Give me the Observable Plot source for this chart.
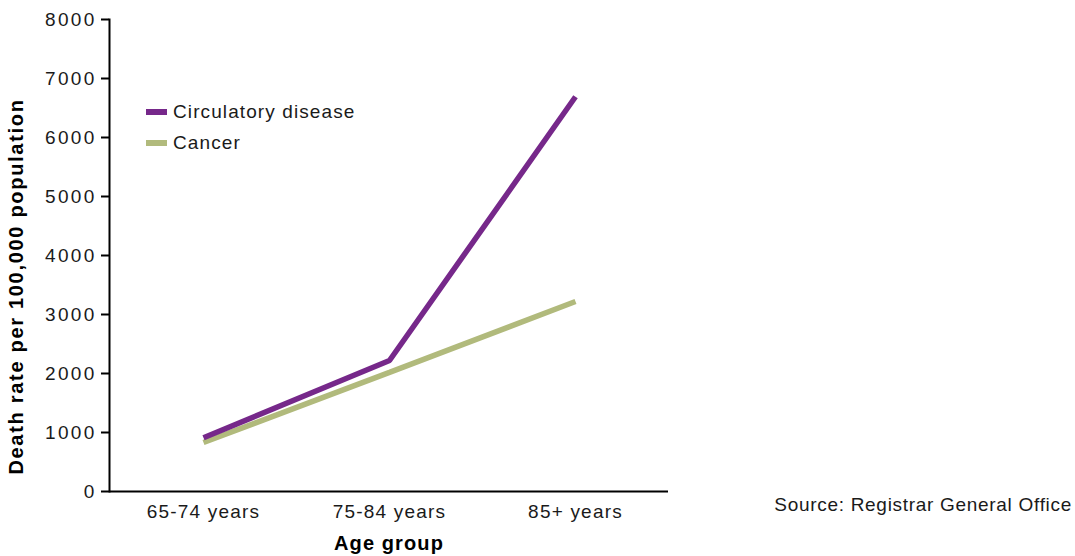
<!DOCTYPE html>
<html>
<head>
<meta charset="utf-8">
<script src="https://cdn.jsdelivr.net/npm/d3@7"></script>
<script src="https://cdn.jsdelivr.net/npm/@observablehq/plot@0.6"></script>
<style>
  html, body { margin: 0; padding: 0; background: #fff; }
  #wrap { position: relative; width: 1075px; height: 556px; font-family: "Liberation Sans", Arial, sans-serif; color: #1a1a1a; }
  #wrap svg text { letter-spacing: 0.7px; }
  #wrap svg [aria-label="y-axis tick label"] text { letter-spacing: 2.3px; }
  #wrap svg [aria-label="x-axis tick label"] text { letter-spacing: 1.2px; }
  .legend { position: absolute; left: 146px; top: 96px; font-size: 19px; letter-spacing: 1.1px; line-height: 31px; }
  .legend .item { display: flex; align-items: center; height: 31px; }
  .legend .sw { width: 21px; height: 6px; margin-right: 6px; }
  .source { position: absolute; right: 3px; top: 494px; font-size: 19px; letter-spacing: 0.7px; }
</style>
</head>
<body>
<div id="wrap"></div>
<script>
const ageGroups = ["65-74 years", "75-84 years", "85+ years"];
const circulatory = [910, 2220, 6690];
const cancer = [830, 2020, 3220];
const seriesNames = ["Circulatory disease", "Cancer"];
const seriesColors = ["#76288a", "#b1ba7c"];
const yTicks = [0, 1000, 2000, 3000, 4000, 5000, 6000, 7000, 8000];
const yLabel = "Death rate per 100,000 population";
const xLabel = "Age group";
const sourceText = "Source: Registrar General Office";

const circRows = ageGroups.map((g, i) => ({age: g, value: circulatory[i]}));
const cancerRows = ageGroups.map((g, i) => ({age: g, value: cancer[i]}));

const chart = Plot.plot({
  width: 1075,
  height: 556,
  marginLeft: 109,
  marginRight: 407,
  marginTop: 19,
  marginBottom: 65,
  style: {fontFamily: "'Liberation Sans', Arial, sans-serif", fontSize: "19px", color: "#1a1a1a", background: "#fff", overflow: "visible"},
  x: {type: "point", domain: ageGroups, padding: 0.5},
  y: {domain: [0, 8000]},
  marks: [
    Plot.axisY({ticks: yTicks, tickSize: 8, tickPadding: 5, tickFormat: d3.format("d"), label: null, stroke: "#000", strokeWidth: 2, fill: "#1a1a1a"}),
    Plot.axisX({tickSize: 0, tickPadding: 13, label: null, fill: "#1a1a1a"}),
    Plot.ruleY([0], {stroke: "#000", strokeWidth: 2}),
    Plot.frame({anchor: "left", stroke: "#000", strokeWidth: 2}),
    Plot.line(cancerRows, {x: "age", y: "value", stroke: seriesColors[1], strokeWidth: 5.5, strokeLinecap: "butt", strokeLinejoin: "miter"}),
    Plot.line(circRows, {x: "age", y: "value", stroke: seriesColors[0], strokeWidth: 5.5, strokeLinecap: "butt", strokeLinejoin: "miter"}),
    Plot.text([yLabel], {text: d => d, frameAnchor: "left", rotate: -90, dx: -93, dy: 31, fontWeight: "bold", fontSize: 20, fill: "#000", textAnchor: "middle", lineAnchor: "middle", style: "letter-spacing:1.7px"}),
    Plot.text([xLabel], {text: d => d, frameAnchor: "bottom", dy: 52, fontWeight: "bold", fontSize: 20, fill: "#000", textAnchor: "middle", lineAnchor: "middle"})
  ]
});

const wrap = document.getElementById("wrap");
wrap.appendChild(chart);
chart.querySelectorAll("text").forEach(t => {
  if (t.textContent === yLabel) t.style.letterSpacing = "1.7px";
  if (t.textContent === xLabel) t.style.letterSpacing = "1.1px";
});

const legend = document.createElement("div");
legend.className = "legend";
seriesNames.forEach((name, i) => {
  const item = document.createElement("div");
  item.className = "item";
  const sw = document.createElement("span");
  sw.className = "sw";
  sw.style.background = seriesColors[i];
  const label = document.createElement("span");
  label.textContent = name;
  item.appendChild(sw);
  item.appendChild(label);
  legend.appendChild(item);
});
wrap.appendChild(legend);

const src = document.createElement("div");
src.className = "source";
src.textContent = sourceText;
wrap.appendChild(src);
</script>
</body>
</html>
